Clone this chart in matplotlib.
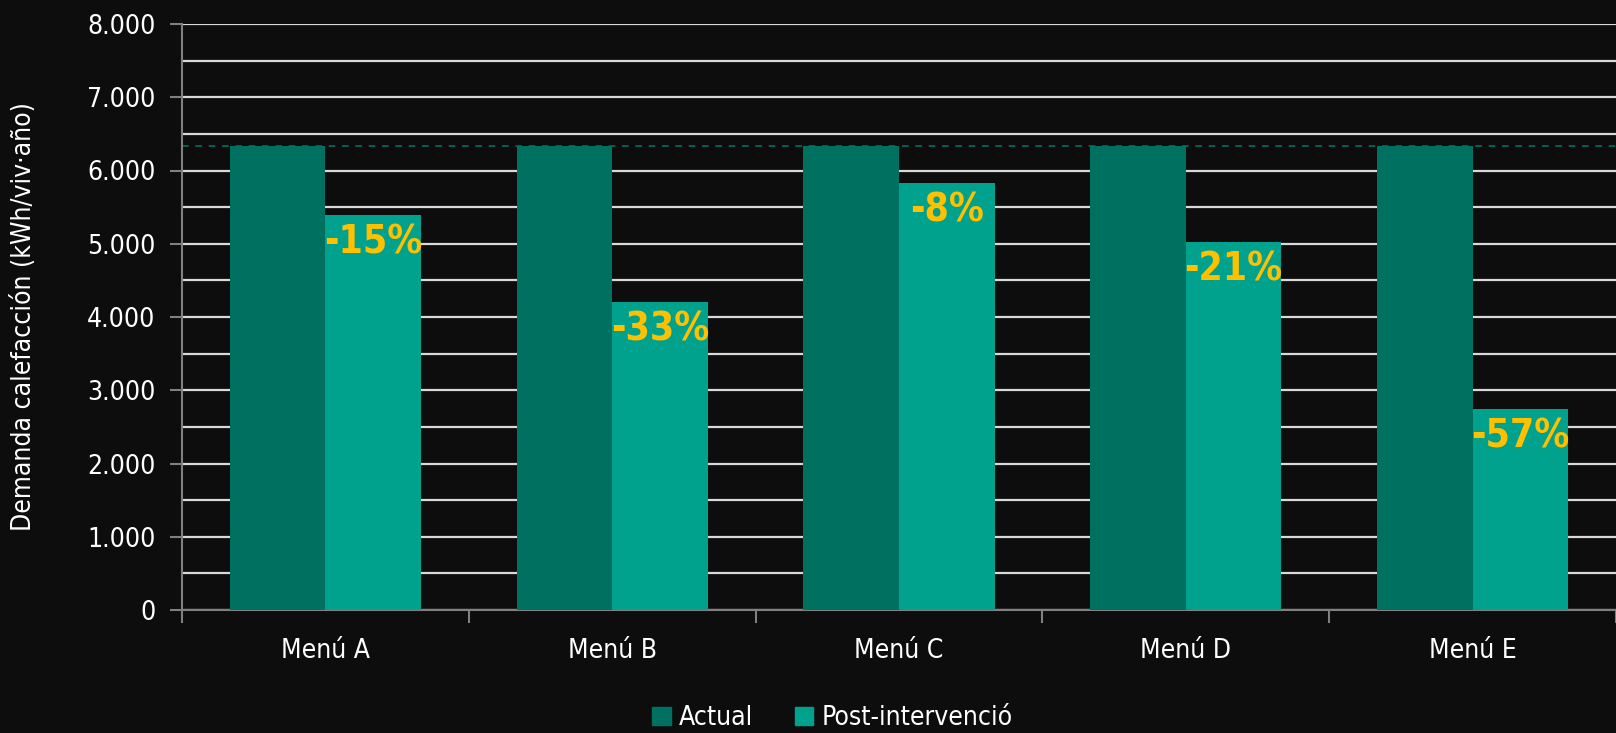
import matplotlib
matplotlib.use("Agg")
import matplotlib.pyplot as plt
from matplotlib.ticker import MultipleLocator, FuncFormatter
from matplotlib.patches import Patch
import numpy as np

categories = ["Menú A", "Menú B", "Menú C", "Menú D", "Menú E"]
actual = [6340, 6340, 6340, 6340, 6340]
post = [5390, 4200, 5830, 5020, 2740]
pct_labels = ["-15%", "-33%", "-8%", "-21%", "-57%"]

BG = "#0d0d0d"
C_ACTUAL = "#007060"
C_POST = "#00a28d"
C_LABEL = "#ffc000"

plt.rcParams["font.family"] = ["DejaVu Sans"]
plt.rcParams["font.stretch"] = "condensed"

fig = plt.figure(figsize=(16.16, 7.33), dpi=100, facecolor=BG)
ax = fig.add_axes([182 / 1616, 1 - 610 / 733, 1 - 182 / 1616, 586 / 733])
ax.set_facecolor(BG)

x = np.arange(len(categories))
w = 0.333
ax.bar(x - w / 2, actual, width=w, color=C_ACTUAL, zorder=3)
bars = ax.bar(x + w / 2, post, width=w, color=C_POST, zorder=3)

for b, lab in zip(bars, pct_labels):
    ax.text(b.get_x() + b.get_width() / 2, b.get_height() - 110, lab,
            ha="center", va="top", color=C_LABEL, fontsize=28,
            fontweight="bold", zorder=4)

# reference line at the current demand
ax.axhline(actual[0], color=C_ACTUAL, lw=1.2, ls=(0, (4, 4)), zorder=2)

ax.set_xlim(-0.5, len(categories) - 0.5)
ax.set_ylim(0, 8000)
ax.yaxis.set_major_locator(MultipleLocator(1000))
ax.yaxis.set_minor_locator(MultipleLocator(500))
ax.yaxis.set_major_formatter(FuncFormatter(lambda v, p: f"{int(v):,}".replace(",", ".")))
ax.grid(axis="y", which="both", color="#d9d9d9", lw=1.6, zorder=1)

ax.set_xticks(x)
ax.set_xticklabels(categories)
ax.set_xticks(np.arange(len(categories) + 1) - 0.5, minor=True)
ax.tick_params(axis="x", which="major", length=0, pad=20, labelsize=19, colors="white")
ax.tick_params(axis="x", which="minor", length=9, width=1.5, color="#808080")
ax.tick_params(axis="y", which="major", length=9, width=1.5, color="#808080",
               labelsize=19, labelcolor="white", pad=10)
ax.tick_params(axis="y", which="minor", length=0)

for s in ["top", "right"]:
    ax.spines[s].set_visible(False)
for s in ["left", "bottom"]:
    ax.spines[s].set_color("#808080")
    ax.spines[s].set_linewidth(1.5)

ax.set_ylabel("Demanda calefacción (kWh/viv·año)", color="white", fontsize=19, labelpad=36)

handles = [Patch(color=C_ACTUAL, label="Actual"), Patch(color=C_POST, label="Post-intervenció")]
leg = fig.legend(handles=handles, loc="lower center", bbox_to_anchor=(0.515, -0.03), ncol=2,
                 frameon=False, fontsize=19, handlelength=0.7, handleheight=0.7,
                 handletextpad=0.3, columnspacing=1.6)
for t in leg.get_texts():
    t.set_color("white")

fig.savefig("out.png", dpi=100, facecolor=BG)
